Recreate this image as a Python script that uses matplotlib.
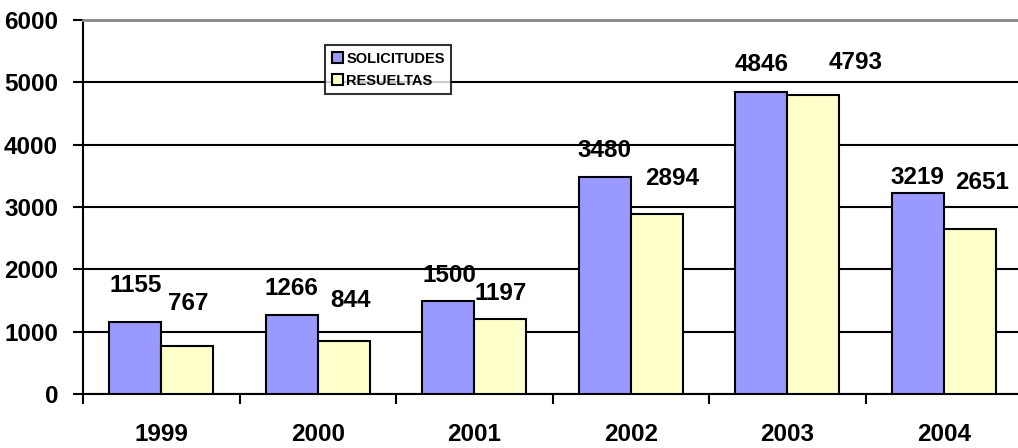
import matplotlib
matplotlib.use("Agg")
import matplotlib.pyplot as plt
from matplotlib.patches import Patch
import numpy as np

years = ["1999", "2000", "2001", "2002", "2003", "2004"]
solicitudes = [1155, 1266, 1500, 3480, 4846, 3219]
resueltas = [767, 844, 1197, 2894, 4793, 2651]

# label placement offsets (pixels) relative to bar top / bar center
sol_dy = [37, 27, 25, 27, 27, 16]
sol_dx = [0, 0, 1, 0, 0, 0]
res_dy = [43, 41, 26, 35, 33, 46]
res_dx = [1, 7, 0, 15, 42, 12]

plt.rcParams['font.family'] = ['Liberation Sans', 'DejaVu Sans']
plt.rcParams['font.weight'] = 'bold'

W, H = 1018, 448
FS = 17.5
fig = plt.figure(figsize=(W / 100, H / 100), dpi=100)
ax = fig.add_axes([83 / W, 1 - 394 / H, (1022 - 83) / W, (394 - 20) / H])

x = np.arange(len(years))
bw = 0.333
blue = "#9999FF"
yellow = "#FFFFCC"
ax.bar(x - bw / 2, solicitudes, bw, color=blue, edgecolor="black", linewidth=1.5, zorder=3)
ax.bar(x + bw / 2, resueltas, bw, color=yellow, edgecolor="black", linewidth=1.5, zorder=3)

pt = 0.72
for i in range(len(years)):
    ax.annotate(str(solicitudes[i]), (x[i] - bw / 2, solicitudes[i]),
                xytext=(sol_dx[i] * pt, sol_dy[i] * pt), textcoords="offset points",
                ha="center", va="center", fontsize=FS, fontweight="bold", zorder=0.3)
    ax.annotate(str(resueltas[i]), (x[i] + bw / 2, resueltas[i]),
                xytext=(res_dx[i] * pt, res_dy[i] * pt), textcoords="offset points",
                ha="center", va="center", fontsize=FS, fontweight="bold", zorder=0.3)

ax.set_xlim(-0.5, 5.5)
ax.set_ylim(0, 6000)
ax.set_yticks(np.arange(0, 6001, 1000))
ax.yaxis.grid(True, color="black", linewidth=1.5)
ax.set_axisbelow(True)
ax.tick_params(axis="y", direction="out", length=7, width=1.5, pad=11, labelsize=FS)

ax.set_xticks(x)
ax.set_xticklabels(years)
ax.set_xticks(np.arange(-0.5, 5.6, 1.0), minor=True)
ax.tick_params(axis="x", which="major", length=0, pad=21, labelsize=FS)
ax.tick_params(axis="x", which="minor", direction="out", length=7, width=1.5)
for lab in ax.get_xticklabels() + ax.get_yticklabels():
    lab.set_fontweight("bold")

ax.spines["right"].set_visible(False)
ax.spines["top"].set_color("#888888")
ax.spines["top"].set_linewidth(2)
ax.spines["left"].set_linewidth(1.5)
ax.spines["bottom"].set_linewidth(1.5)

handles = [Patch(facecolor=blue, edgecolor="black", linewidth=1.5, label="SOLICITUDES"),
           Patch(facecolor=yellow, edgecolor="black", linewidth=1.5, label="RESUELTAS")]
leg = fig.legend(handles=handles, loc="upper left", bbox_to_anchor=(325 / W, 1 - 45 / H),
                 borderaxespad=0, frameon=True, fancybox=False, edgecolor="black",
                 prop={"size": 10.5, "weight": "bold"}, handlelength=0.75, handleheight=0.75,
                 handletextpad=0.25, labelspacing=0.55, borderpad=0.45)
leg.get_frame().set_linewidth(1.5)

fig.savefig("out.png", dpi=100)
